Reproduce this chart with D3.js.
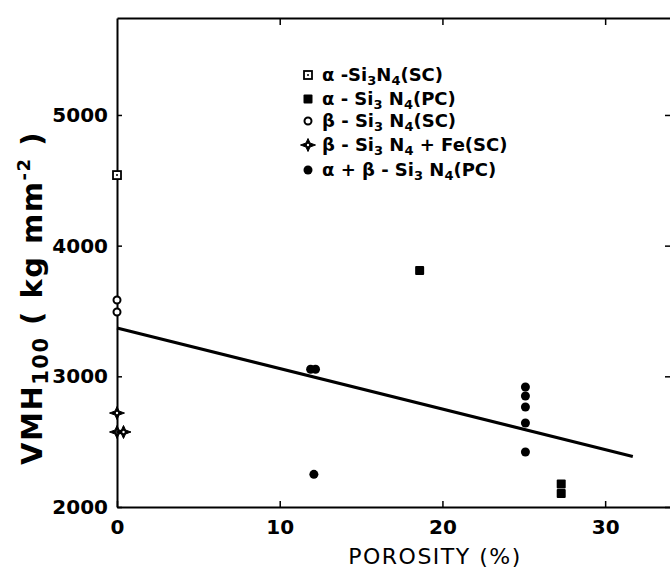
<!DOCTYPE html>
<html>
<head>
<meta charset="utf-8">
<script src="https://cdn.jsdelivr.net/npm/d3@7"></script>
<style>
  body { margin: 0; background: #fff; }
  svg text { font-family: "DejaVu Sans", sans-serif; fill: #000; }
</style>
</head>
<body>
<script>
// Set dimensions
const width = 670, height = 572;

// Data: [porosity %, VMH100 kg/mm2]
const alphaSC = [[0, 4540]];
const alphaPC = [[18.6, 3810], [27.3, 2176], [27.3, 2104]];
const betaSC = [[0, 3584], [0, 3492]];
const betaFeSC = [[0, 2719], [0, 2574], [0.4, 2574]];
const alphaBetaPC = [[11.9, 3054], [12.2, 3054], [12.1, 2250],
    [25.1, 2918], [25.1, 2849], [25.1, 2765], [25.1, 2643], [25.1, 2421]];
const fitLine = [[0, 3370], [31.7, 2387]];

const xTicks = [0, 10, 20, 30];
const yTicks = [2000, 3000, 4000, 5000];

// legend labels, "_" marks a subscript piece
const legendItems = [
    { key: "alphaSC", parts: ["α -Si", "_3", "N", "_4", "(SC)"] },
    { key: "alphaPC", parts: ["α - Si", "_3", " N", "_4", "(PC)"] },
    { key: "betaSC", parts: ["β - Si", "_3", " N", "_4", "(SC)"] },
    { key: "betaFeSC", parts: ["β - Si", "_3", " N", "_4", " + Fe(SC)"] },
    { key: "alphaBetaPC", parts: ["α + β - Si", "_3", " N", "_4", "(PC)"] }
];

const svg = d3.select("body").append("svg")
    .attr("width", width)
    .attr("height", height);

// Scales
const x = d3.scaleLinear().domain([0, 34.17]).range([117, 673]);
const y = d3.scaleLinear().domain([2000, 5742]).range([507, 18]);

// Axes
const styleAxis = g => {
    g.select(".domain").attr("stroke-width", 2);
    g.selectAll(".tick line").attr("stroke-width", 1.5);
    g.selectAll(".tick text").style("font-family", "DejaVu Sans").style("font-weight", "bold");
};

svg.append("g")
    .attr("transform", `translate(0,${y(2000)})`)
    .call(d3.axisBottom(x).tickValues(xTicks).tickFormat(d3.format("d"))
        .tickSizeInner(-6).tickSizeOuter(0).tickPadding(13))
    .call(styleAxis)
    .call(g => g.selectAll(".tick text").attr("font-size", 20));

svg.append("g")
    .attr("transform", `translate(${x(0)},0)`)
    .call(d3.axisLeft(y).tickValues(yTicks).tickFormat(d3.format("d"))
        .tickSizeInner(-5).tickSizeOuter(0).tickPadding(9))
    .call(styleAxis)
    .call(g => g.selectAll(".tick text").attr("font-size", 20));

svg.append("g")
    .attr("transform", `translate(0,${y.range()[1]})`)
    .call(d3.axisTop(x).tickValues([10, 20, 30]).tickSizeInner(-7).tickSizeOuter(0).tickFormat(""))
    .call(styleAxis);

svg.append("g")
    .attr("transform", `translate(${x.range()[1]},0)`)
    .call(d3.axisRight(y).tickValues(yTicks).tickSizeInner(-8).tickSizeOuter(0).tickFormat(""))
    .call(styleAxis);

// Axis titles
svg.append("text")
    .attr("x", 435)
    .attr("y", 564)
    .attr("text-anchor", "middle")
    .attr("font-size", 22)
    .attr("letter-spacing", 1.5)
    .text("POROSITY (%)");

const yTitle = svg.append("text")
    .attr("transform", "translate(42,298) rotate(-90)")
    .attr("text-anchor", "middle")
    .attr("font-size", 29)
    .attr("letter-spacing", 1.5)
    .attr("font-weight", "bold");
yTitle.append("tspan").text("VMH");
yTitle.append("tspan").attr("font-size", 21).attr("dy", 6).text("100");
yTitle.append("tspan").attr("dy", -6).text(" ( kg mm");
yTitle.append("tspan").attr("font-size", 18).attr("dy", -12).text("-2");
yTitle.append("tspan").attr("dy", 12).text(" )");

// Fit line
svg.append("path")
    .datum(fitLine)
    .attr("d", d3.line().x(d => x(d[0])).y(d => y(d[1])))
    .attr("stroke", "#000")
    .attr("stroke-width", 3)
    .attr("fill", "none");

// Marker drawers
const star = "M-7.5,0 L-2,-2 L0,-6.5 L2,-2 L7.5,0 L2,2 L0,6.5 L-2,2 Z";
const markers = {
    alphaSC: g => {
        g.append("rect").attr("x", -4).attr("y", -4).attr("width", 8).attr("height", 8)
            .attr("fill", "#fff").attr("stroke", "#000").attr("stroke-width", 1.8);
        g.append("circle").attr("r", 1).attr("fill", "#000");
    },
    alphaPC: g => g.append("rect").attr("x", -4.5).attr("y", -4.5).attr("width", 9).attr("height", 9)
        .attr("rx", 1).attr("fill", "#000"),
    betaSC: g => g.append("circle").attr("r", 3.5)
        .attr("fill", "#fff").attr("stroke", "#000").attr("stroke-width", 2),
    betaFeSC: g => {
        g.append("path").attr("d", star).attr("fill", "#000").attr("stroke", "#000").attr("stroke-width", 1);
        g.append("circle").attr("r", 1.2).attr("fill", "#fff");
    },
    alphaBetaPC: g => g.append("circle").attr("r", 4.5).attr("fill", "#000")
};

const series = { alphaSC, alphaPC, betaSC, betaFeSC, alphaBetaPC };
const drawOrder = ["alphaBetaPC", "alphaPC", "betaSC", "alphaSC", "betaFeSC"];
drawOrder.forEach(key => {
    svg.append("g").selectAll("g")
        .data(series[key])
        .enter()
        .append("g")
        .attr("transform", d => `translate(${x(d[0])},${y(d[1])})`)
        .each(function() { markers[key](d3.select(this)); });
});

// Legend
const legendRows = [75, 99, 121, 145, 170];
const legend = svg.append("g");
legendItems.forEach((item, i) => {
    const row = legend.append("g").attr("transform", `translate(308,${legendRows[i]})`);
    markers[item.key](row.append("g"));
    const t = row.append("text")
        .attr("x", 14)
        .attr("y", 6)
        .attr("font-size", 18)
        .attr("font-weight", "bold");
    let low = false;
    item.parts.forEach(s => {
        const sub = s.startsWith("_");
        const span = t.append("tspan").text(sub ? s.slice(1) : s);
        if (sub) span.attr("font-size", 13);
        if (sub && !low) span.attr("dy", 4);
        if (!sub && low) span.attr("dy", -4);
        low = sub;
    });
});
</script>
</body>
</html>
